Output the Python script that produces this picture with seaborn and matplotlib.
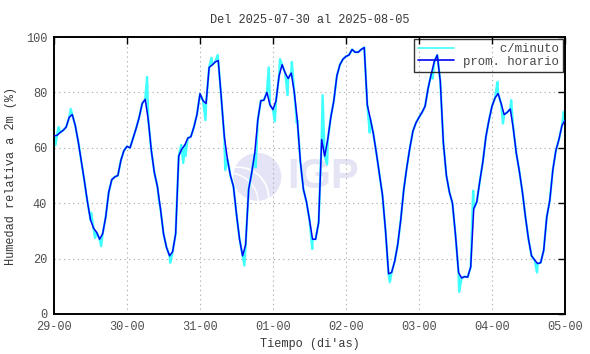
import matplotlib
matplotlib.use("Agg")
import matplotlib.pyplot as plt
import seaborn as sns
import pandas as pd
import numpy as np
from matplotlib.patches import Ellipse

# ---- data (hours since 29-00) ----
hourly_vals = [
    64.3, 64.5, 65.5, 66.3, 67.5, 71.0, 72.0, 68.0, 62.0, 55.0,   # 0-9
    48.0, 40.5, 34.0, 31.0, 29.5, 27.0, 29.0, 35.0, 44.0, 48.5,   # 10-19
    49.5, 50.0, 55.5, 59.0, 60.5, 60.0, 63.5, 67.0, 71.0, 76.0,   # 20-29
    77.5, 70.0, 59.0, 51.0, 46.0, 38.0, 29.0, 24.0, 21.0, 22.5,   # 30-39
    29.0, 57.0, 59.5, 61.0, 63.5, 64.0, 67.5, 72.0, 79.5, 77.0,   # 40-49
    76.0, 89.0, 89.9, 91.0, 91.5, 78.0, 64.0, 56.0, 50.0, 46.0,   # 50-59
    36.0, 27.0, 21.0, 25.0, 45.0, 51.0, 58.0, 70.0, 77.0, 77.2,   # 60-69
    80.0, 75.5, 73.8, 77.0, 86.0, 90.0, 87.0, 85.0, 87.0, 80.0,   # 70-79
    70.0, 55.0, 45.0, 40.5, 34.0, 27.0, 27.0, 33.0, 63.0, 57.0,   # 80-89
    63.0, 71.0, 77.0, 86.0, 90.0, 92.0, 93.0, 93.5, 95.5, 94.5,   # 90-99
    94.5, 95.5, 96.2, 75.5, 70.5, 65.0, 58.0, 50.5, 42.8, 30.0,   # 100-109
    14.5, 15.0, 19.0, 25.0, 34.0, 45.0, 53.0, 60.0, 66.0, 69.0,   # 110-119
    71.0, 72.8, 75.0, 81.5, 86.5, 91.0, 93.5, 84.0, 62.0, 50.0,   # 120-129
    44.0, 40.0, 28.5, 15.0, 13.0, 13.5, 13.3, 17.0, 38.0, 40.5,   # 130-139
    48.0, 55.0, 64.0, 70.0, 75.0, 78.0, 79.6, 76.0, 72.0, 72.8,   # 140-149
    74.0, 67.0, 58.0, 51.5, 44.0, 35.0, 27.0, 21.0, 19.5, 18.2,   # 150-159
    18.5, 23.0, 35.0, 41.0, 52.0, 59.0, 63.0, 68.0, 70.0,         # 160-168
]
hourly_hours = list(range(len(hourly_vals)))

# per-minute excursions (hour, value)
spike_hours = [0.5, 1.5, 5.5, 10.5, 12.2, 13.5, 15.5, 30.6, 34.5, 38.2,
               41.8, 42.5, 43.2, 49.8, 51.8, 53.8, 56.3, 62.6, 66.3, 70.6,
               72.6, 74.3, 76.8, 78.2, 79.8, 84.9, 88.3, 89.8, 103.8, 110.4,
               124.5, 133.2, 137.8, 145.8, 147.6, 150.3, 158.8, 167.6]
spike_vals = [61.0, 67.5, 74.0, 44.0, 36.5, 27.5, 24.5, 85.6, 41.0, 18.5,
              61.0, 54.5, 57.0, 70.0, 92.5, 93.5, 52.0, 17.5, 53.0, 89.0,
              69.5, 92.0, 79.0, 91.0, 69.0, 23.5, 79.0, 54.0, 65.5, 11.5,
              85.0, 8.0, 44.5, 83.8, 68.8, 77.2, 15.0, 73.0]

xtick_hours = [0, 24, 48, 72, 96, 120, 144, 168]
xtick_labels = ["29-00", "30-00", "31-00", "01-00", "02-00", "03-00", "04-00", "05-00"]
ytick_vals = [0, 20, 40, 60, 80, 100]

hourly_df = pd.DataFrame({"t": hourly_hours, "rh": hourly_vals})
minute_df = pd.DataFrame({"t": hourly_hours + spike_hours,
                          "rh": hourly_vals + spike_vals}).sort_values("t")

sns.set_style("white")
plt.rcParams["font.family"] = ["Liberation Mono", "DejaVu Sans Mono"]

fig = plt.figure(figsize=(5.9, 3.54), dpi=100)
ax = fig.add_axes([54 / 590, 40 / 354, 511 / 590, 277 / 354])

# watermark
ax.add_patch(Ellipse((0.398, 0.495), 0.094, 0.173, transform=ax.transAxes,
                     facecolor="#e4e4f6", edgecolor="none", zorder=0))
ax.add_patch(Ellipse((0.36, 0.42), 0.12, 0.22, transform=ax.transAxes,
                     facecolor="none", edgecolor="white", lw=1.2, zorder=0.5))
ax.add_patch(Ellipse((0.34, 0.40), 0.12, 0.22, transform=ax.transAxes,
                     facecolor="none", edgecolor="white", lw=1.0, zorder=0.5))
ax.text(0.457, 0.494, "IGP", transform=ax.transAxes, fontsize=30,
        fontweight="bold", family="Liberation Sans", color="#e4e4f5",
        ha="left", va="center", zorder=0.5)

sns.lineplot(data=minute_df, x="t", y="rh", ax=ax, color="#40ffff", lw=1.7,
             estimator=None, sort=False, label="     c/minuto", zorder=2)
sns.lineplot(data=hourly_df, x="t", y="rh", ax=ax, color="#0505f0", lw=1.1,
             estimator=None, label="prom. horario", zorder=3)

ax.set_xlim(0, 168)
ax.set_ylim(0, 100)
ax.set_xticks(xtick_hours)
ax.set_xticklabels(xtick_labels)
ax.set_yticks(ytick_vals)
ax.set_yticklabels([str(v) for v in ytick_vals])
ax.grid(True, linestyle=(0, (1.2, 3)), color="#b0b0b0", lw=0.8)
ax.tick_params(direction="in", length=5, width=1, top=True, right=True,
               labelsize=8.6, labelcolor="#505050", color="black", pad=5)
for s in ax.spines.values():
    s.set_color("black")
    s.set_linewidth(1.4)

ax.set_title("Del 2025-07-30 al 2025-08-05", fontsize=8.6, color="#383838", pad=10)
ax.set_xlabel("Tiempo (di'as)", fontsize=8.6, color="#383838", labelpad=4)
ax.set_ylabel("Humedad relativa a 2m (%)", fontsize=8.6, color="#383838", labelpad=6)

leg = ax.legend(loc="upper right", fontsize=8.9, frameon=True, fancybox=False,
                edgecolor="black", borderaxespad=0.15, handlelength=2.9,
                borderpad=0.35, labelspacing=0.05, handletextpad=0.7)
leg.get_frame().set_facecolor("none")
leg.get_frame().set_linewidth(1.0)
for t in leg.get_texts():
    t.set_color("#484848")
leg.legend_handles[0].set_linewidth(1.2)
leg.legend_handles[1].set_linewidth(1.2)

fig.savefig("out.png", dpi=100)
